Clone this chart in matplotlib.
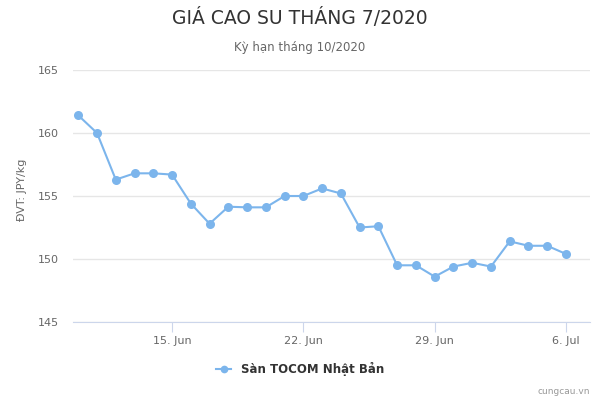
import matplotlib
matplotlib.use("Agg")
import matplotlib.pyplot as plt
import matplotlib.dates as mdates
import numpy as np
import datetime as dt

dates = [dt.date(2020, 6, 10) + dt.timedelta(days=i) for i in range(27)]
prices = [161.4, 160.0, 156.3, 156.8, 156.8, 156.7, 154.4, 152.8, 154.15, 154.1,
          154.1, 155.0, 155.0, 155.6, 155.2, 152.5, 152.6, 149.5, 149.5, 148.6,
          149.4, 149.7, 149.4, 151.4, 151.05, 151.05, 150.4]
series_name = "Sàn TOCOM Nhật Bản"
title = "GIÁ CAO SU THÁNG 7/2020"
subtitle = "Kỳ hạn tháng 10/2020"
ylabel = "ĐVT: JPY/kg"
yticks = [145, 150, 155, 160, 165]
xtick_dates = [dt.date(2020, 6, 15), dt.date(2020, 6, 22), dt.date(2020, 6, 29), dt.date(2020, 7, 6)]
xtick_labels = ["15. Jun", "22. Jun", "29. Jun", "6. Jul"]

plt.rcParams['font.family'] = ['DejaVu Sans']
fig = plt.figure(figsize=(6, 4), dpi=100)
ax = fig.add_axes([73/600, 1-322/400, (590-73)/600, (322-70)/400])

color = "#7cb5ec"
ax.plot(dates, prices, color=color, lw=1.5, marker='o', markersize=6.5,
        markeredgewidth=0, zorder=3, label=series_name)

ax.set_ylim(145, 165)
ax.set_yticks(yticks)
ax.set_xlim(mdates.date2num(dt.date(2020, 6, 10)) - 0.28, mdates.date2num(dt.date(2020, 7, 7)) + 0.28)
ax.set_xticks(xtick_dates)
ax.set_xticklabels(xtick_labels)

ax.grid(axis='y', color='#e6e6e6', lw=1)
ax.set_axisbelow(True)
for s in ['top', 'right', 'left']:
    ax.spines[s].set_visible(False)
ax.spines['bottom'].set_color('#ccd6eb')
ax.tick_params(axis='y', length=0, labelsize=8, labelcolor='#666666', pad=10)
ax.tick_params(axis='x', length=7, color='#ccd6eb', labelsize=8, labelcolor='#666666', pad=3)

fig.text(0.5, 0.955, title, ha='center', va='center', fontsize=13.5, color='#333333')
fig.text(0.5, 0.882, subtitle, ha='center', va='center', fontsize=8.5, color='#666666')
fig.text(22/600, 1-190/400, ylabel, rotation=90, ha='center', va='center', fontsize=8, color='#666666')

leg = fig.legend(loc='center', bbox_to_anchor=(0.5, 1-369/400), frameon=False,
                 fontsize=8.5, handlelength=1.3, markerscale=0.85)
for t in leg.get_texts():
    t.set_fontweight('bold')
    t.set_color('#333333')

fig.text(590/600, 1-392/400, "cungcau.vn", ha='right', va='center', fontsize=6.5, color='#999999')

fig.savefig("out.png", dpi=100)
